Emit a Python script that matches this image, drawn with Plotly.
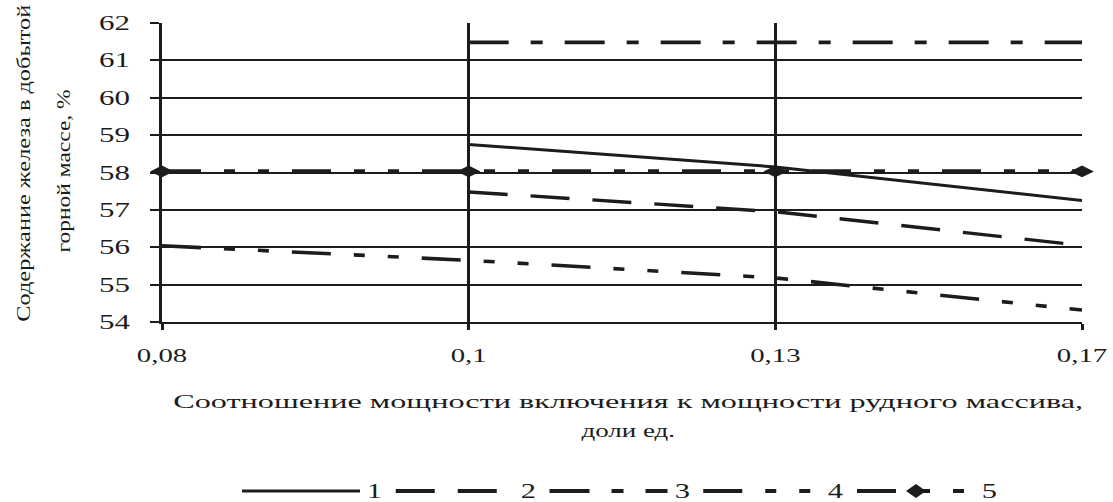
import json
import plotly.graph_objects as go

# ---------------- data ----------------
categories = ["0,08", "0,1", "0,13", "0,17"]
series_names = ["1", "2", "3", "4", "5"]
s1 = [None, 58.75, 58.15, 57.25]
s2 = [None, 57.48, 56.95, 56.05]
s3 = [None, 61.48, 61.48, 61.48]
s4 = [56.04, 55.65, 55.18, 54.32]
s5 = [58.03, 58.03, 58.03, 58.03]
y_tick_values = [54, 55, 56, 57, 58, 59, 60, 61, 62]

x_title_1 = "Соотношение мощности включения к мощности рудного массива,"
x_title_2 = "доли ед."
y_title_1 = "Содержание железа в добытой"
y_title_2 = "горной массе, %"

series_values = [s1, s2, s3, s4, s5]

# ---------------- styles ----------------
INK = "#1c1c1c"
FONT = "Liberation Serif, Times New Roman, serif"
styles = [
    dict(width=3.0, dash="solid", marker=None),
    dict(width=3.4, dash="39px,23px", marker=None),
    dict(width=3.8, dash="40px,22px,12px,22px", marker=None),
    dict(width=3.6, dash="39px,23px,11px,23px,11px,23px", marker=None),
    dict(width=4.4, dash="39px,23px,11px,23px,11px,23px", marker="diamond-wide"),
]

W, H = 1113, 502
ML, MR, MT, MB = 162, 31, 23, 180
PW, PH = W - ML - MR, H - MT - MB


def px_x(px):
    return (px - ML) / PW


def px_y(py):
    return (MT + PH - py) / PH


fig = go.Figure()
for name, vals, st in zip(series_names, series_values, styles):
    fig.add_trace(go.Scatter(
        x=categories, y=vals, name=name,
        mode="lines+markers" if st["marker"] else "lines",
        line=dict(color=INK, width=st["width"], dash=st["dash"]),
        marker=dict(symbol=st["marker"] or "circle", size=17, color=INK),
        cliponaxis=False, showlegend=False, connectgaps=False,
    ))

annotations = [
    dict(text=x_title_1, x=px_x(628), y=px_y(402), xref="paper", yref="paper",
         showarrow=False, xanchor="center", yanchor="middle",
         font=dict(family=FONT, size=18, color=INK)),
    dict(text=x_title_2, x=px_x(628), y=px_y(431), xref="paper", yref="paper",
         showarrow=False, xanchor="center", yanchor="middle",
         font=dict(family=FONT, size=18, color=INK)),
    dict(text=y_title_1, x=px_x(23), y=px_y(163), xref="paper", yref="paper",
         showarrow=False, xanchor="center", yanchor="middle", textangle=-90,
         font=dict(family=FONT, size=19, color=INK)),
    dict(text=y_title_2, x=px_x(63), y=px_y(171), xref="paper", yref="paper",
         showarrow=False, xanchor="center", yanchor="middle", textangle=-90,
         font=dict(family=FONT, size=19, color=INK)),
]

# custom legend (long line samples)
shapes = []
leg_y = px_y(491)
leg_x0, leg_pitch, leg_len = 242, 153.75, 118
for i, (name, st) in enumerate(zip(series_names, styles)):
    start = leg_x0 + i * leg_pitch
    shapes.append(dict(type="line", xref="paper", yref="paper",
                       x0=px_x(start), x1=px_x(start + leg_len), y0=leg_y, y1=leg_y,
                       line=dict(color=INK, width=st["width"] if st["dash"] == "solid" else 4,
                                 dash=st["dash"])))
    if st["marker"]:
        shapes.append(dict(type="path", xref="paper", yref="paper",
                           xsizemode="pixel", ysizemode="pixel",
                           xanchor=px_x(start + leg_len / 2), yanchor=leg_y,
                           path="M-10,0 L0,7 L10,0 L0,-7 Z",
                           fillcolor=INK, line=dict(color=INK, width=0)))
    annotations.append(dict(text=name, x=px_x(start + 125), y=leg_y, xref="paper", yref="paper",
                            showarrow=False, xanchor="left", yanchor="middle",
                            font=dict(family=FONT, size=21, color=INK)))

fig.update_layout(
    width=W, height=H,
    margin=dict(l=ML, r=MR, t=MT, b=MB),
    plot_bgcolor="white", paper_bgcolor="white",
    showlegend=False,
    annotations=annotations,
    shapes=shapes,
    xaxis=dict(
        type="category", range=[0, 3], showgrid=True, gridcolor=INK, gridwidth=2.7,
        ticks="outside", ticklen=6, tickwidth=2.7, tickcolor=INK,
        showline=True, linecolor=INK, linewidth=2.2,
        tickfont=dict(family=FONT, size=18, color=INK), ticklabelstandoff=10,
        fixedrange=True,
    ),
    yaxis=dict(
        range=[54, 62], tickvals=y_tick_values, showgrid=True, gridcolor=INK, gridwidth=1.6,
        ticks="outside", ticklen=9, tickwidth=1.6, tickcolor=INK,
        showline=True, linecolor=INK, linewidth=3, zeroline=False,
        tickfont=dict(family=FONT, size=20, color=INK), ticklabelstandoff=16,
        fixedrange=True,
    ),
)

# horizontal stretching of text, imitating the stretched typography of the original
stretch_spec = {
    "xtick": 1.6,
    "ytick": 1.55,
    "ann": [["len", 910], ["factor", 1.5], ["len", 317], ["len", 163]] +
           [["factor", 1.45]] * len(series_names),
}

post = """
document.body.style.margin = '0';
document.body.style.padding = '0';
var gd = document.getElementById('{plot_id}');
var spec = %s;
function fit(t, len){ t.setAttribute('textLength', len); t.setAttribute('lengthAdjust','spacingAndGlyphs'); }
function run(){
  gd.querySelectorAll('.xtick text').forEach(function(t){ fit(t, t.getComputedTextLength()*spec.xtick); });
  gd.querySelectorAll('.ytick text').forEach(function(t){ fit(t, t.getComputedTextLength()*spec.ytick); });
  gd.querySelectorAll('g.annotation').forEach(function(g){
    var i = parseInt(g.getAttribute('data-index'));
    var s = spec.ann[i]; if(!s) return;
    var t = g.querySelector('text.annotation-text'); if(!t) return;
    var L = s[0]==='len' ? s[1] : t.getComputedTextLength()*s[1];
    fit(t, L);
  });
}
run();
""" % json.dumps(stretch_spec)

fig.write_html("out.html", post_script=post, config={"displayModeBar": False})
